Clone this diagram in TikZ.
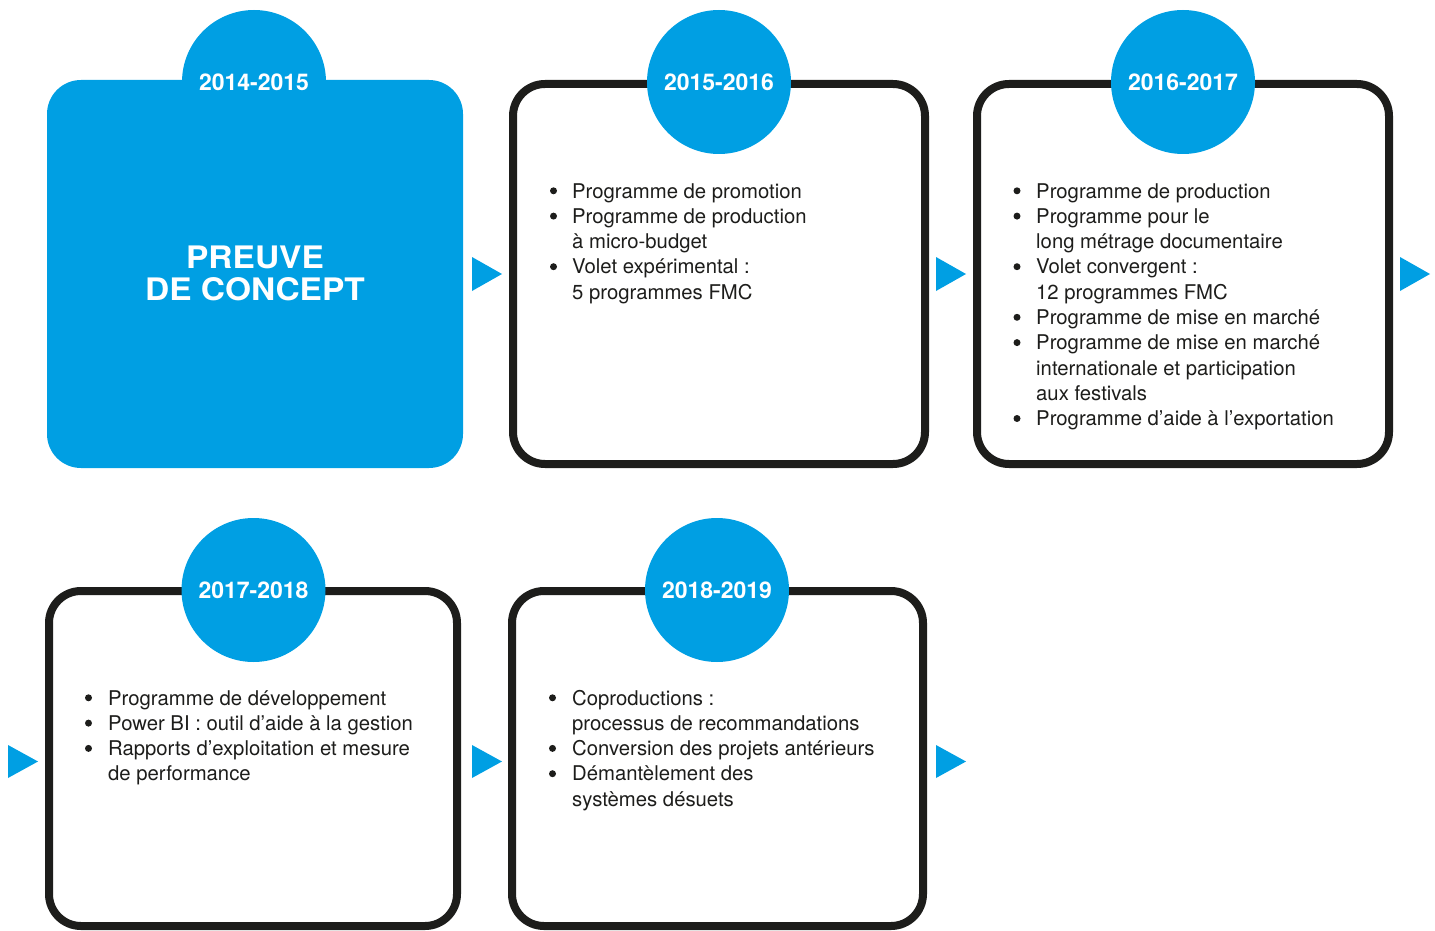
\documentclass[tikz,border=0pt]{standalone}
\usepackage{fontspec}
\setmainfont{TeX Gyre Heros}
\definecolor{cblue}{HTML}{009FE3}
\definecolor{cdark}{HTML}{1D1D1B}
\newcommand\bul{\hspace*{23pt}}
\begin{document}
\begin{tikzpicture}[x=1pt,y=-1pt,
 boxfill/.style={rectangle, rounded corners=34pt, fill=cblue, inner sep=0},
 boxline/.style={rectangle, rounded corners=32pt, draw=cdark, line width=8pt, fill=white, inner sep=0},
 yearcircle/.style={circle, fill=cblue, minimum size=144pt, inner sep=0, text=white, font=\fontsize{23}{27}\selectfont\bfseries},
 bodytext/.style={anchor=base west, inner sep=0, text=cdark, font=\fontsize{20.3}{25.3}\selectfont},
 dot/.style={fill=cdark},
 tri/.style={fill=cblue}]
\useasboundingbox (0,0) rectangle (1435,931);
% boxes
\node[boxfill, minimum width=416pt, minimum height=388pt] (b1) at (255,274) {};
\node[boxline, minimum width=412pt, minimum height=380pt] (b2) at (719,274) {};
\node[boxline, minimum width=412pt, minimum height=380pt] (b3) at (1183,274) {};
\node[boxline, minimum width=408pt, minimum height=335pt] (b4) at (253,758.5) {};
\node[boxline, minimum width=411pt, minimum height=335pt] (b5) at (717.5,758.5) {};
% year circles
\node[yearcircle] (c1) at (254,82) {2014-2015};
\node[yearcircle] (c2) at (719,82) {2015-2016};
\node[yearcircle] (c3) at (1183,82) {2016-2017};
\node[yearcircle] (c4) at (253.5,590) {2017-2018};
\node[yearcircle] (c5) at (717,590) {2018-2019};
% box 1 title
\node[anchor=base, inner sep=0, text=white, font=\fontsize{31}{32}\selectfont\bfseries] (t1) at (255,268)
 {\scalebox{1.08}[1]{\begin{tabular}[t]{@{}c@{}}PREUVE\\DE CONCEPT\end{tabular}}};
% body texts
\node[bodytext] (t2) at (549,198) {\begin{tabular}[t]{@{}l@{}l@{}}
\bul & Programme de promotion\\
\bul & Programme de production\\
 & à micro-budget\\
\bul & Volet expérimental :\\
 & 5 programmes FMC
\end{tabular}};
\node[bodytext] (t3) at (1013,198) {\begin{tabular}[t]{@{}l@{}l@{}}
\bul & Programme de production\\
\bul & Programme pour le\\
 & long métrage documentaire\\
\bul & Volet convergent :\\
 & 12 programmes FMC\\
\bul & Programme de mise en marché\\
\bul & Programme de mise en marché\\
 & internationale et participation\\
 & aux festivals\\
\bul & Programme d’aide à l’exportation
\end{tabular}};
\node[bodytext] (t4) at (85,705) {\begin{tabular}[t]{@{}l@{}l@{}}
\bul & Programme de développement\\
\bul & Power BI : outil d’aide à la gestion\\
\bul & Rapports d’exploitation et mesure\\
 & de performance
\end{tabular}};
\node[bodytext] (t5) at (549,705) {\begin{tabular}[t]{@{}l@{}l@{}}
\bul & Coproductions :\\
 & processus de recommandations\\
\bul & Conversion des projets antérieurs\\
\bul & Démantèlement des\\
 & systèmes désuets
\end{tabular}};
% bullets
\foreach \r in {0,1,3} \fill[dot] (553.5,{198-7.2+25.3*\r}) circle (3.5);
\foreach \r in {0,1,3,5,6,9} \fill[dot] (1017,{198-7.2+25.3*\r}) circle (3.5);
\foreach \r in {0,1,2} \fill[dot] (88.5,{705-7.2+25.3*\r}) circle (3.5);
\foreach \r in {0,2,3} \fill[dot] (552.5,{705-7.2+25.3*\r}) circle (3.5);
% arrows
\fill[tri] (472,257) -- (502,274) -- (472,291) -- cycle;
\fill[tri] (936,257) -- (966,274) -- (936,291) -- cycle;
\fill[tri] (1400,257) -- (1430,274) -- (1400,291) -- cycle;
\fill[tri] (8,745) -- (38,761.5) -- (8,778) -- cycle;
\fill[tri] (472,745) -- (502,761.5) -- (472,778) -- cycle;
\fill[tri] (936,745) -- (966,761.5) -- (936,778) -- cycle;
\end{tikzpicture}
\end{document}
